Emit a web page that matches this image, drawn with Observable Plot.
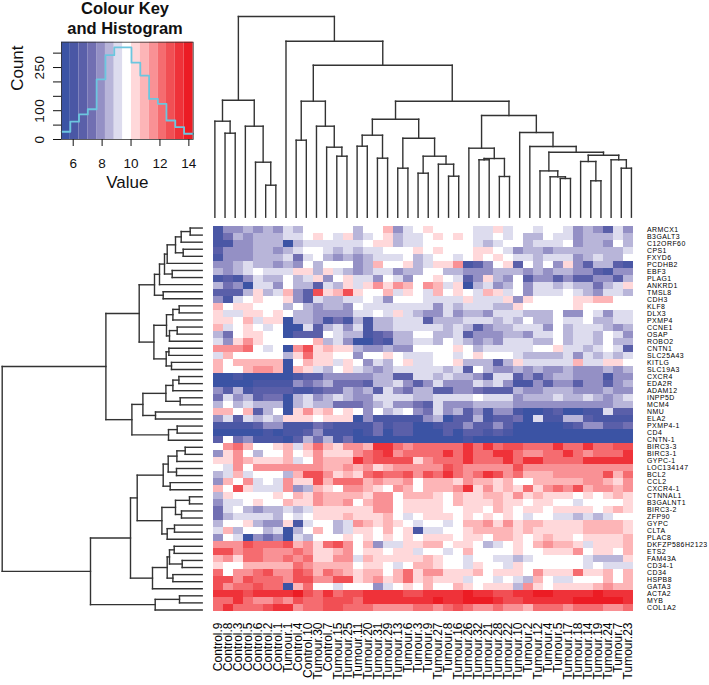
<!DOCTYPE html>
<html><head><meta charset="utf-8">
<script src="https://cdn.jsdelivr.net/npm/d3@7"></script>
<script src="https://cdn.jsdelivr.net/npm/@observablehq/plot@0.6"></script>
<style>
html,body{margin:0;padding:0;background:#fff}
#root{position:relative;width:709px;height:685px;overflow:hidden;font-family:"Liberation Sans",Arial,sans-serif}
#root svg{position:absolute;overflow:visible}
#root g[aria-label="y-axis tick label"]{letter-spacing:.45px}
#keyTitle{position:absolute;left:25px;top:-2px;width:200px;text-align:center;font-weight:bold;font-size:16.5px;line-height:20px;color:#111}
</style></head><body><div id="root"></div>
<script>
const colLabels = ["Control.9","Control.8","Control.3","Control.5","Control.6","Control.2","Control.1","Tumour.1","Control.4","Control.10","Tumour.30","Control.7","Tumour.15","Tumour.25","Tumour.11","Tumour.20","Tumour.31","Tumour.29","Tumour.13","Tumour.6","Tumour.3","Tumour.9","Tumour.27","Tumour.8","Tumour.16","Tumour.26","Tumour.32","Tumour.21","Tumour.28","Tumour.22","Tumour.10","Tumour.2","Tumour.12","Tumour.4","Tumour.5","Tumour.17","Tumour.18","Tumour.14","Tumour.19","Tumour.24","Tumour.7","Tumour.23"];
const rowLabels = ["ARMCX1","B3GALT3","C12ORF60","CPS1","FXYD6","PCDHB2","EBF3","PLAG1","ANKRD1","TMSL8","CDH3","KLF8","DLX3","PXMP4","CCNE1","OSAP","ROBO2","CNTN1","SLC25A43","KITLG","SLC19A3","CXCR4","EDA2R","ADAM12","INPP5D","MCM4","NMU","ELA2","PXMP4-1","CD4","CNTN-1","BIRC3-3","BIRC3-1","GYPC-1","LOC134147","BCL2","CCL2","CXCR4-1","CTNNAL1","B3GALNT1","BIRC3-2","ZFP90","GYPC","CLTA","PLAC8","DKFZP586H2123","ETS2","FAM43A","CD34-1","CD34","HSPB8","GATA3","ACTA2","MYB","COL1A2"];
// colour-key band of every cell: -7 deep blue, 0 white, 7 pure red
const heatBands = [
[-6,-3,-3,-2,-3,-2,-3,-1,-2,0,0,0,0,0,-2,0,0,2,-3,-1,0,1,0,0,0,0,-1,-1,1,-1,0,0,-1,0,0,-1,-3,-2,-3,-5,-1,-3],
[-6,-4,-2,-3,-2,-2,-2,-1,-1,0,1,0,-1,1,-2,-1,0,1,-2,-1,-1,0,1,0,1,0,-1,-1,0,-1,0,-2,-2,0,-1,-1,-3,-2,-2,-2,-1,-2],
[-6,-6,-3,-3,-2,-2,-2,-7,-2,-1,-1,-1,-1,-1,-1,0,1,1,-2,-1,-1,0,0,0,0,0,-1,-2,-1,0,0,-2,-1,-1,-1,0,-3,-2,-2,-3,0,-2],
[-5,-3,-3,-3,-2,-2,-3,-2,-1,0,0,-1,-2,-1,-2,-1,-1,0,0,0,1,0,1,0,0,0,1,1,0,-1,-3,-2,-2,-3,-2,-2,-2,-2,-2,-2,-2,-1],
[-6,-3,-3,-3,-2,-2,-2,-1,-4,-1,0,-2,-3,-2,-3,-2,-1,-1,-1,0,-2,-1,0,0,-1,0,1,0,1,0,-1,-1,-2,-1,-1,-1,-3,-2,-1,-2,-2,0],
[-3,-3,-2,-1,-2,-2,-3,-2,-3,0,-2,0,0,0,-3,-2,2,0,0,1,-2,-1,1,1,3,-6,-5,-3,0,1,-5,0,-2,0,-3,1,-3,-5,-2,-2,-5,-6],
[-2,-3,-2,-1,0,-1,-1,-1,1,1,-2,1,-1,-2,-3,-2,-1,-1,-3,-2,-2,0,0,-2,-2,-3,-3,-3,-2,-2,-2,-3,-2,-3,-2,-2,-3,-3,-5,-6,-3,-3],
[-6,-5,-6,-3,-1,-2,-2,0,-2,-1,1,-3,0,1,-1,-1,-3,0,-1,-3,0,0,1,0,-1,-5,-3,1,-2,-3,0,-5,-3,-3,-5,-3,-5,-5,-3,-3,-5,-2],
[-2,-4,-3,-7,-1,-1,-3,0,-2,-2,-5,-1,-2,1,-1,1,3,1,3,2,0,3,2,-1,1,-7,-2,-1,-3,-2,0,-3,-1,-1,-2,-1,-2,-2,-4,-2,-1,1],
[-5,-5,-5,-2,1,-2,-1,2,-3,-5,5,1,2,5,1,0,0,2,-1,1,0,-1,2,0,1,0,-1,2,1,-1,0,-3,-1,-1,-1,0,-1,-2,-3,-1,-1,-2],
[-3,-6,-1,0,1,0,0,1,-3,-5,-1,-2,-2,-1,-1,0,-1,-3,0,0,0,-1,-1,-1,-1,1,-1,-1,-1,1,-3,1,0,0,0,0,1,1,2,2,0,0],
[2,0,1,1,0,0,0,-2,0,-2,-3,-2,-2,-3,0,-1,-1,-1,-1,-1,-1,-1,-3,-1,-2,-1,-1,-1,-2,-2,1,0,0,0,0,0,1,0,0,0,0,0],
[1,-1,-1,1,1,0,1,0,-2,-2,-3,-3,-3,-3,-1,-1,0,-1,1,-1,-2,-3,-3,-1,-3,-2,-2,-3,-1,-1,-1,-2,-2,-2,0,-3,-3,0,-1,-3,-1,-1],
[1,1,0,2,-1,1,1,-7,-2,-2,-3,-6,-4,-6,-2,-6,-2,-2,-1,-1,-1,-5,-2,-2,-2,-1,-1,-1,-2,-1,-2,0,-2,-2,0,-1,-1,0,-2,-2,-1,-1],
[2,-1,0,1,0,-1,0,-7,-7,-1,-5,-2,-1,-3,-1,-6,-2,-2,-1,-1,-1,-1,-1,-2,-1,-2,-5,-3,-2,-2,-1,-1,-1,-3,0,-2,-1,-1,-1,-2,-3,-2],
[-2,-4,0,1,1,0,0,-7,-5,-5,-5,0,-1,-2,-2,-6,-5,-4,-2,-2,0,0,-2,-2,-1,-5,-3,-3,-3,-2,-2,-3,-1,-1,0,-2,-1,-1,-2,0,-1,-3],
[-1,-3,1,3,1,0,0,0,0,0,2,-2,-1,-3,-7,-7,-5,-6,-2,-2,-1,-1,-2,0,-1,-2,-3,-2,-3,-1,-1,-1,-2,-2,0,-2,-1,-1,-2,0,-2,-2],
[3,3,3,4,0,-1,0,-7,3,5,1,2,1,1,-2,-3,-3,-2,-3,-3,0,0,0,0,1,0,-2,-1,-1,-1,-1,-1,0,0,1,-1,-1,-2,-1,0,-1,-5],
[-1,2,0,0,0,0,0,-2,1,4,1,1,0,0,-3,0,0,1,0,-1,-1,-1,0,0,-1,0,1,0,0,0,-1,-2,-2,-2,-2,-1,-3,-1,-2,-1,-2,-1],
[2,0,2,2,2,2,2,-7,0,2,1,1,-1,1,0,-3,-1,-2,0,1,-1,-1,0,0,1,-2,-2,-2,-5,-2,1,-1,-1,-1,-1,-1,2,-1,-1,1,1,0],
[2,0,0,2,3,3,2,-7,2,1,-1,-2,0,1,-1,-2,-3,-2,-1,-1,-1,-1,-1,-2,-1,-5,0,-2,-3,-3,-2,-3,-2,-3,-3,-2,-3,-3,-3,-2,-3,-2],
[-7,-7,-6,-7,-7,-7,-7,-7,-6,-5,-5,-3,-3,-3,-3,-3,-2,-2,-5,-5,-1,-1,-2,-1,-2,-2,-3,-5,-1,-1,-5,-3,-5,-3,-2,-2,-3,-3,-3,-6,-3,-3],
[-7,-7,-7,-7,-6,-6,-6,-6,-3,-4,-3,-2,-4,-4,-4,-5,-2,-2,-1,-3,-5,-3,-1,-3,-3,-3,-1,-2,-1,-3,-6,-6,-3,-5,-3,-3,-5,-3,-3,-5,-3,-2],
[-3,-5,-2,-6,-5,-5,-5,-5,-6,-6,-5,-4,-4,-2,-3,-2,-5,-1,-3,-4,-2,-2,-5,-5,-3,-3,-4,-5,-5,-5,-2,-3,-3,-2,-2,-2,-3,-3,-3,-2,-3,-3],
[-4,-1,-3,-2,-5,-4,-4,-7,-2,-1,-3,-2,-1,-2,-3,-3,-1,-1,-1,-1,-2,-2,-1,-1,-1,-1,0,-1,-1,-1,-3,-2,-2,-2,-1,-2,-2,-1,-2,-3,-2,-1],
[-2,0,-2,-1,-2,-2,-2,-7,-2,-1,-2,-2,-4,-4,-4,-3,-2,-1,-3,-3,-4,-5,-1,-3,-3,-3,-2,-2,-2,-2,-3,-3,-3,-3,-3,-3,-3,-3,-3,-3,-2,-2],
[2,2,0,2,-5,-2,0,-7,1,3,1,2,0,1,0,-3,0,-2,-1,0,-3,-4,-1,-3,-2,-5,-3,-6,-3,-3,-6,-7,-7,-6,-5,-7,-7,-6,-6,-1,-5,-5],
[-3,-1,-5,-1,-2,-1,-2,1,1,1,0,1,1,1,-7,-3,-6,-6,-6,-6,-6,-3,-2,-7,-5,-5,-2,-6,-5,-5,-4,-7,-1,-6,-6,-2,-2,-5,-6,-6,-6,-6],
[-6,-6,-6,-6,-5,-3,-3,-6,-6,-6,-4,-5,-6,-6,-6,-6,-4,-6,-5,-5,-7,-7,-6,-5,-5,-3,-5,-5,-3,-5,-7,-7,-7,-7,-7,-6,-5,-3,-3,-5,-5,-4],
[-7,-7,-7,-7,-7,-6,-7,-6,-6,-5,-3,-6,-6,-6,-7,-6,-4,-7,-5,-5,-7,-7,-7,-5,-7,-5,-5,-6,-5,-6,-7,-7,-7,-7,-7,-7,-7,-7,-7,-7,-7,-7],
[-5,0,-4,-3,-6,-6,-6,-7,-5,-2,-4,-2,-6,-4,-7,-7,-7,-7,-7,-7,-7,-7,-7,-7,-7,-6,-7,-7,-7,-7,-7,-7,-7,-7,-7,-7,-7,-7,-7,-7,-7,-7],
[0,3,4,2,0,0,1,2,-1,2,4,2,1,3,3,2,6,6,4,3,4,4,4,4,4,6,4,6,4,5,5,4,4,4,6,4,4,6,4,4,5,5],
[-3,1,3,0,-2,0,0,2,0,1,3,1,1,1,3,4,5,6,3,4,4,4,4,6,4,6,4,4,6,6,4,3,3,4,4,6,4,3,4,4,4,6],
[1,1,3,2,1,1,1,2,-1,0,3,2,2,2,6,4,5,5,5,5,1,3,4,4,4,6,4,4,4,6,4,6,6,4,4,4,4,6,6,6,6,6],
[0,-1,3,0,3,3,3,3,3,3,3,2,2,3,2,3,1,2,3,3,3,3,3,5,4,3,3,3,3,3,5,3,3,3,3,3,3,3,3,3,3,3],
[-2,-1,2,-1,0,0,0,-2,2,5,5,3,1,2,1,4,5,4,4,5,3,5,4,6,4,3,4,6,5,3,4,2,2,2,3,3,3,3,3,5,2,4],
[-3,2,0,3,-1,0,-1,3,1,1,5,2,4,4,4,2,3,2,2,3,0,2,2,2,1,3,2,2,1,2,0,0,2,2,2,2,2,3,3,2,1,3],
[2,0,5,1,-1,-1,-1,3,-3,-2,2,1,0,3,3,2,1,0,3,2,0,2,2,2,3,6,1,3,1,2,1,4,1,3,4,3,5,2,3,3,2,3],
[-2,1,0,0,0,0,1,0,2,1,3,2,2,2,2,1,3,3,0,2,2,2,1,0,2,1,1,2,2,1,3,1,2,1,1,1,0,1,0,1,2,1],
[-3,-1,-1,0,1,0,0,2,1,1,3,2,2,3,0,2,3,3,0,1,1,1,1,0,2,1,1,1,2,1,1,0,1,1,0,0,-1,0,0,0,0,1],
[-4,-1,0,-2,-3,-2,-2,-1,-2,-1,1,1,1,1,1,1,3,3,0,1,1,1,1,0,0,1,1,0,2,1,0,1,1,0,1,1,1,1,0,1,2,1],
[-4,-2,-1,-1,-1,-1,-2,0,-1,0,1,1,1,2,1,1,1,2,0,-1,0,1,1,1,0,1,0,1,0,1,0,-1,0,0,-1,-1,-2,-1,-2,-1,0,0],
[-2,0,0,1,-2,-3,-3,1,-6,-1,0,0,-2,-1,3,2,1,2,1,0,-1,0,0,-1,0,2,2,3,1,3,1,2,2,1,1,1,1,2,2,2,2,1],
[-1,2,-2,0,0,-2,-1,-7,-2,0,2,0,-2,-1,1,1,0,2,0,1,-6,-1,-1,0,0,1,2,2,2,2,1,2,1,1,1,1,1,2,2,2,2,1],
[-3,0,-1,-7,-3,-4,-3,-7,-1,-2,0,0,0,1,0,1,0,1,0,1,0,1,1,1,0,1,1,0,2,2,1,0,1,2,1,1,0,1,1,1,1,2],
[3,3,3,5,4,4,4,5,2,3,1,4,5,3,0,2,-3,-1,-1,1,1,2,2,0,1,1,0,-2,-1,0,1,0,2,3,2,2,1,-1,1,1,1,2],
[5,5,3,4,4,3,3,3,4,3,1,1,2,3,0,1,1,0,1,1,-1,0,0,-1,0,2,0,0,0,0,1,0,0,1,1,1,3,0,1,1,0,2],
[2,3,1,4,4,3,3,4,3,4,1,1,3,3,-1,2,1,1,1,1,1,2,1,0,0,-1,0,0,-1,-1,-2,-1,0,0,0,0,0,-1,-2,-2,-2,1],
[1,0,0,2,2,2,2,2,4,3,2,2,2,2,0,1,1,0,-1,0,2,2,1,0,0,-1,1,0,0,-1,1,0,0,0,0,0,0,-1,0,-1,-1,-1],
[4,0,3,3,4,5,3,3,5,4,2,4,3,2,1,2,2,0,2,4,1,3,3,1,1,1,2,0,1,1,1,0,3,1,1,1,4,1,1,2,0,2],
[5,5,3,5,4,4,4,3,5,5,3,3,5,5,1,2,3,1,2,4,1,2,1,1,1,-1,0,0,-1,0,-1,-2,2,0,-1,-1,0,0,0,2,0,2],
[5,3,4,4,5,4,4,-7,2,4,0,0,-1,0,0,0,-3,-1,0,1,0,2,0,0,2,1,0,1,1,1,-2,3,1,0,1,1,1,1,2,3,2,2],
[6,6,6,5,6,6,6,6,7,5,4,6,4,5,5,6,6,6,6,5,5,6,6,6,6,7,6,6,5,5,6,6,7,7,6,6,6,6,7,6,6,6],
[4,4,6,4,3,3,4,3,5,4,4,5,5,5,4,6,6,6,6,6,6,6,7,6,6,7,7,7,6,5,5,6,6,6,6,6,7,7,7,7,7,6],
[4,6,4,4,4,5,6,6,3,4,4,5,5,4,4,4,3,3,3,3,4,4,3,4,5,4,3,3,4,3,3,2,4,4,4,3,4,4,4,3,3,4]
];
// dendrograms: [merge height, left branch, right branch]; 0 is the next leaf
const topTree = [200.7,
  [117,[96,0,[84,0,0]],[91,0,[55,0,[32,0,0]]]],
  [176,0,[152,
    [116,[77,0,0],[91,0,[70,0,[61,0,0]]]],
    [116,
      [98,[82,[71,0,0],[59,0,0]],[79,[49,0,0],[61,[44,0,0],[53,0,[41,0,0]]]]],
      [101.7,
        [69,0,[58.7,[57.4,0,0],[40.7,0,0]]],
        [84.7,0,[70.7,0,[65,[46.3,0,[40.4,0,[38.7,0,0]]],[62,[55.7,0,[36.4,0,0]],[57.4,0,[49,0,0]]]]]]
      ]]]]];
const leftTree = [200,
  [96.3,
    [63,
      [47.7,[42.7,[37.7,[35,[26.7,[21,[12,0,0],0],[19,0,0]],0],[30,0,0]],0],[39,0,0]],
      [48.3,[35.7,[29.3,[23,0,0],0],[32.7,[25,0,0],0]],[36,[33.3,0,0],[30.7,0,0]]]],
    [70.3,
      [59.3,[36.3,[29.3,[23.3,0,0],0],[22,0,0]],[46.7,0,0]],
      [33.7,[25,0,0],0]]],
  [111.7,
    [71.7,
      [65,
        [39,[34,[25.3,[17,0,0],0],[25.7,0,0]],[32,0,0]],
        [40.3,[26.7,[12.7,0,0],[20.7,0,0]],[35,[27.7,0,0],0]]],
      [49.7,[35,[32.7,[28,0,0],[20,0,0]],[29.3,0,0]],0]],
    [47,[22.7,0,0],0]]];
// colour key
const bandLevels = [-7,-6,-5,-4,-3,-2,-1,0,1,2,3,4,5,6,7];
const bandColours = ["#3b53a4","#4a57a5","#5a5fa9","#716fb2","#9490c5","#b8b5d9","#dddcee","#ffffff","#ffd8da","#fdb5b7","#f99195","#f56c70","#f14f54","#ef3239","#ec1c24"];
const binEdges = [5.19,5.8,6.4,7.01,7.62,8.23,8.84,9.43,10.03,10.64,11.25,11.86,12.45,13.06,13.67,14.3];
const histCounts = [27,62,87,105,209,293,320,320,267,222,141,124,66,43,20];
const keyTop = 338;
const FONT = '"Liberation Sans",Arial,sans-serif';

heatBands.forEach((r,i)=>{ if(r.length!==colLabels.length) throw new Error("row "+i+" has "+r.length); });
if(heatBands.length!==rowLabels.length) throw new Error("rows");

function segments(tree){
  const segs=[]; let next=0;
  (function walk(t){
    if(t===0) return {p:next++,h:0};
    const a=walk(t[1]), b=walk(t[2]), h=t[0];
    segs.push({p1:a.p,h1:h,p2:b.p,h2:h},{p1:a.p,h1:a.h,p2:a.p,h2:h},{p1:b.p,h1:b.h,p2:b.p,h2:h});
    return {p:(a.p+b.p)/2,h};
  })(tree);
  return segs;
}
const root=document.getElementById("root");
function place(svg,left,top){svg.style.left=left+"px";svg.style.top=top+"px";svg.style.background="transparent";root.appendChild(svg);}
const lineStyle={stroke:"#333",strokeWidth:1.4,strokeLinecap:"square"};

// heatmap
const cells=heatBands.flatMap((r,i)=>r.map((v,j)=>({row:rowLabels[i],col:colLabels[j],v})));
place(Plot.plot({
  width:504,height:463,marginLeft:4.3,marginRight:73,marginTop:2,marginBottom:72,
  style:{fontFamily:FONT,color:"#000"},
  x:{type:"band",domain:colLabels,padding:0,axis:null},
  y:{type:"band",domain:rowLabels,padding:0,axis:null},
  color:{type:"ordinal",domain:bandLevels,range:bandColours},
  marks:[
    Plot.cell(cells,{x:"col",y:"row",fill:"v",inset:0}),
    Plot.axisY({anchor:"right",tickSize:0,tickPadding:10.5,fontSize:6.95,label:null}),
    Plot.axisX({anchor:"bottom",tickSize:0,tickRotate:-90,tickPadding:9,fontSize:12,label:null})
  ]
}),205,222);

// top dendrogram
place(Plot.plot({
  width:440,height:222,marginLeft:9.3,marginRight:4,marginTop:16,marginBottom:5.3,
  x:{type:"linear",domain:[-0.5,41.5],axis:null},
  y:{type:"linear",domain:[0,200.7],axis:null},
  marks:[Plot.link(segments(topTree),{x1:"p1",y1:"h1",x2:"p2",y2:"h2",...lineStyle})]
}),200,0);

// left dendrogram
place(Plot.plot({
  width:205,height:393,marginLeft:1.7,marginRight:3.3,marginTop:2,marginBottom:2,
  x:{type:"linear",domain:[200,0],axis:null},
  y:{type:"linear",domain:[54.5,-0.5],axis:null},
  marks:[Plot.link(segments(leftTree),{x1:"h1",y1:"p1",x2:"h2",y2:"p2",...lineStyle})]
}),0,222);

// colour key and histogram
const bands=bandColours.map((c,i)=>({x1:binEdges[i],x2:binEdges[i+1],level:bandLevels[i]}));
const hist=histCounts.map((n,i)=>({x:binEdges[i],n})).concat([{x:binEdges[15],n:histCounts[14]}]);
place(Plot.plot({
  width:200,height:200,marginLeft:61,marginRight:7.3,marginTop:41.7,marginBottom:61,
  style:{fontFamily:FONT,color:"#111"},
  x:{type:"linear",domain:[5.19,14.3]},
  y:{type:"linear",domain:[0,keyTop]},
  color:{type:"ordinal",domain:bandLevels,range:bandColours},
  marks:[
    Plot.rect(bands,{x1:"x1",x2:"x2",y1:0,y2:keyTop,fill:"level"}),
    Plot.line(hist,{x:"x",y:"n",curve:"step-after",stroke:"#6cc6df",strokeWidth:1.8}),
    Plot.frame({stroke:"#333",strokeWidth:0.8}),
    Plot.axisX({ticks:[6,8,10,12,14],tickSize:7,tickPadding:12,fontSize:13.5,label:null}),
    Plot.axisY({ticks:[0,50,100,150,200,250,300],tickSize:8,tickPadding:10,fontSize:13.5,tickRotate:-90,
      tickFormat:d=>[0,100,250].includes(d)?d:"",label:null}),
    Plot.text(["Count"],{frameAnchor:"left",dx:-44,rotate:-90,fontSize:17}),
    Plot.text(["Value"],{frameAnchor:"bottom",dy:48,fontSize:17})
  ]
}),0,0);

const t=document.createElement("div");t.id="keyTitle";t.innerHTML="Colour Key<br>and Histogram";root.appendChild(t);
</script></body></html>
